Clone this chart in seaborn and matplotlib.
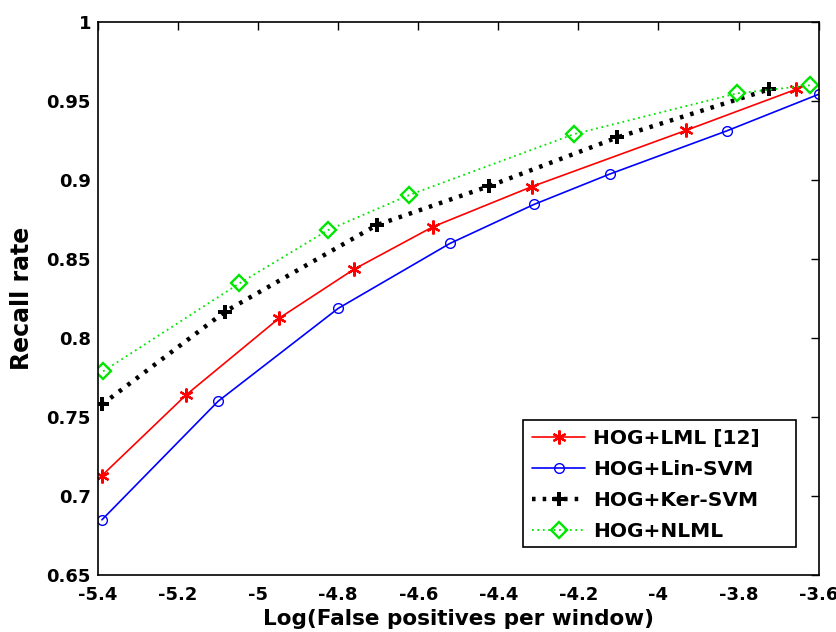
import matplotlib
matplotlib.use("Agg")
import matplotlib.pyplot as plt
from matplotlib.patches import Rectangle
import seaborn as sns

# ROC-style recall curves: log false positives per window vs recall
lml_x = [-5.39, -5.18, -4.948, -4.761, -4.563, -4.317, -3.930, -3.657]
lml_y = [0.713, 0.764, 0.8125, 0.8435, 0.8705, 0.8958, 0.9316, 0.9574]

lin_x = [-5.39, -5.10, -4.80, -4.521, -4.311, -4.122, -3.829, -3.599]
lin_y = [0.685, 0.760, 0.8188, 0.8599, 0.8846, 0.9038, 0.9312, 0.9544]

ker_x = [-5.39, -5.083, -4.704, -4.423, -4.103, -3.724]
ker_y = [0.758, 0.8167, 0.8715, 0.8962, 0.927, 0.9574]

nlml_x = [-5.387, -5.047, -4.825, -4.623, -4.211, -3.804, -3.622]
nlml_y = [0.779, 0.8346, 0.8684, 0.8905, 0.9291, 0.9549, 0.960]

labels = ["HOG+LML [12]", "HOG+Lin-SVM", "HOG+Ker-SVM", "HOG+NLML"]
x_ticks = [-5.4, -5.2, -5.0, -4.8, -4.6, -4.4, -4.2, -4.0, -3.8, -3.6]
x_tick_labels = ["-5.4", "-5.2", "-5", "-4.8", "-4.6", "-4.4", "-4.2", "-4", "-3.8", "-3.6"]
y_ticks = [0.65, 0.7, 0.75, 0.8, 0.85, 0.9, 0.95, 1.0]
y_tick_labels = ["0.65", "0.7", "0.75", "0.8", "0.85", "0.9", "0.95", "1"]

sns.set_style("white")
plt.rcParams["font.family"] = ["DejaVu Sans"]
plt.rcParams["font.weight"] = "bold"
for key in ("text.color", "axes.labelcolor", "xtick.color", "ytick.color"):
    plt.rcParams[key] = "black"

fig = plt.figure(figsize=(8.37, 6.32), dpi=100)
ax = fig.add_axes([0.117, 0.090, 0.861, 0.875])

asterisk = (6, 2, 0)
sns.lineplot(x=lml_x, y=lml_y, ax=ax, color="#ff0000", linewidth=1.2,
             marker=asterisk, markersize=10, markeredgewidth=1.6,
             markeredgecolor="#ff0000", label=labels[0], sort=False)
sns.lineplot(x=lin_x, y=lin_y, ax=ax, color="#0000ff", linewidth=1.2,
             marker="o", markersize=7, markerfacecolor="none",
             markeredgecolor="#0000ff", markeredgewidth=1.0,
             label=labels[1], sort=False)
sns.lineplot(x=ker_x, y=ker_y, ax=ax, color="black", linewidth=3.2,
             linestyle=(0, (0.8, 1.6)), marker="P", markersize=10,
             markeredgewidth=0, markerfacecolor="black",
             label=labels[2], sort=False)
sns.lineplot(x=nlml_x, y=nlml_y, ax=ax, color="#00e600", linewidth=1.3,
             linestyle=(0, (1, 2)), marker="D", markersize=8,
             markerfacecolor="none", markeredgecolor="#00e600",
             markeredgewidth=1.7, label=labels[3], sort=False)

ax.set_xlim(-5.4, -3.6)
ax.set_ylim(0.65, 1.0)
ax.set_xticks(x_ticks)
ax.set_xticklabels(x_tick_labels)
ax.set_yticks(y_ticks)
ax.set_yticklabels(y_tick_labels)
ax.tick_params(direction="in", top=True, right=True, length=6, width=1,
               labelsize=13)
ax.tick_params(axis="x", pad=8)
ax.tick_params(axis="y", pad=5)
for lbl in ax.get_xticklabels() + ax.get_yticklabels():
    lbl.set_fontweight("bold")
for sp in ax.spines.values():
    sp.set_color("black")
    sp.set_linewidth(1.2)

ax.set_xlabel("Log(False positives per window)", fontsize=15.5, fontweight="bold")
ax.xaxis.set_label_coords(0.5, -0.0795)
ax.xaxis.label.set_va("center")
ax.set_ylabel("Recall rate", fontsize=17, fontweight="bold")
ax.yaxis.set_label_coords(-0.105, 0.5)
ax.yaxis.label.set_va("center")

# Legend entries without their own frame; a plain box is drawn around them
leg = ax.legend(loc="upper left", bbox_to_anchor=(0.603, 0.265),
                borderaxespad=0, borderpad=0,
                prop={"weight": "bold", "size": 14.5}, frameon=False,
                handlelength=2.6, handletextpad=0.4, labelspacing=0.6)
box = Rectangle((0.5895, 0.0506), 0.968 - 0.5895, 0.2803 - 0.0506,
                transform=ax.transAxes, fill=True, facecolor="white",
                edgecolor="black", linewidth=1.2, zorder=4)
ax.add_patch(box)
leg.set_zorder(5)

fig.savefig("out.png", dpi=100)
